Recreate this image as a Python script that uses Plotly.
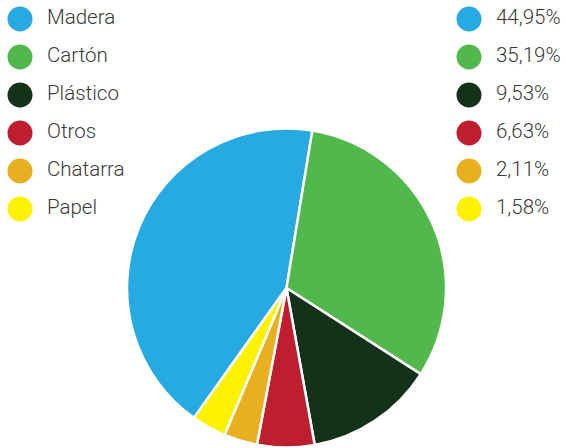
import plotly.graph_objects as go

# Data
categories = ["Madera", "Cartón", "Plástico", "Otros", "Chatarra", "Papel"]
pct_labels = ["44,95%", "35,19%", "9,53%", "6,63%", "2,11%", "1,58%"]
# slice sizes as drawn in the picture
slice_values = [42.75, 31.5, 13.1, 5.8, 3.4, 3.5]
colors = ["#27a9e1", "#51b84b", "#133219", "#be1e2d", "#e8b020", "#fff200"]

W, H = 566, 448
cx, cy, r = 286.5, 288, 159.5

fig = go.Figure()
fig.add_trace(go.Pie(
    labels=categories, values=slice_values, sort=False, direction="clockwise",
    rotation=-144.5,
    marker=dict(colors=colors, line=dict(color="white", width=2.5)),
    textinfo="none", hoverinfo="label+percent", showlegend=False,
    domain=dict(x=[(cx - r) / W, (cx + r) / W], y=[(H - cy - r) / H, (H - cy + r) / H]),
))

row0, step = 19, 38
rows = [row0 + i * step for i in range(len(categories))]
font = dict(family="Roboto", size=20.5, color="#3a3a3a", weight=300)

# legend left: markers and names
fig.add_trace(go.Scatter(x=[20] * len(rows), y=rows, mode="markers",
                         marker=dict(size=25, color=colors), showlegend=False, hoverinfo="skip"))
fig.add_trace(go.Scatter(x=[47] * len(rows), y=rows, mode="text", text=categories,
                         textposition="middle right", textfont=font, showlegend=False, hoverinfo="skip"))
# legend right: markers and percentages
fig.add_trace(go.Scatter(x=[469] * len(rows), y=rows, mode="markers",
                         marker=dict(size=25, color=colors), showlegend=False, hoverinfo="skip"))
fig.add_trace(go.Scatter(x=[496] * len(rows), y=rows, mode="text", text=pct_labels,
                         textposition="middle right", textfont=font, showlegend=False, hoverinfo="skip"))

fig.update_layout(
    width=W, height=H, margin=dict(l=0, r=0, t=0, b=0),
    paper_bgcolor="white", plot_bgcolor="rgba(0,0,0,0)",
    xaxis=dict(range=[0, W], visible=False, fixedrange=True),
    yaxis=dict(range=[H, 0], visible=False, fixedrange=True),
)
fig.write_html("out.html", post_script="document.body.style.margin='0';",
               config={"displayModeBar": False})
